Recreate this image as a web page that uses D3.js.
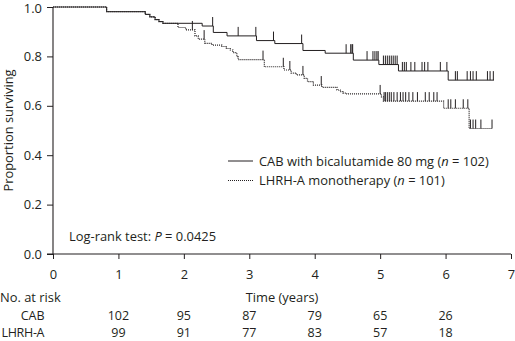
<!DOCTYPE html>
<html>
<head>
<meta charset="utf-8">
<script src="https://cdn.jsdelivr.net/npm/d3@7"></script>
<style>
  html, body { margin: 0; padding: 0; background: #fff; }
  svg { display: block; }
  text { font-family: "Open Sans", "Noto Sans", sans-serif; fill: #231f20; }
</style>
</head>
<body>
<svg id="chart" width="515" height="341"></svg>
<script>
// Kaplan–Meier estimates: event times (years) and survival after each step
const sharedTimes = [0.82, 1.41, 1.48, 1.56, 1.62, 1.68];
const sharedSurv  = [0.981, 0.970, 0.960, 0.949, 0.941, 0.934];

const cabTimes = [2.28, 2.45, 2.66, 3.11, 3.39, 3.82, 4.16, 4.59, 4.98, 5.28, 6.04];
const cabSurv  = [0.923, 0.897, 0.883, 0.864, 0.852, 0.824, 0.813, 0.785, 0.767, 0.741, 0.704];
const cabEnd = 6.74;
const cabCensored = [2.44, 2.83, 3.10, 3.37, 3.80, 4.48, 4.55, 4.57, 4.58, 4.80, 4.89, 4.92,
  4.95, 4.97, 5.05, 5.08, 5.11, 5.14, 5.17, 5.20, 5.23, 5.26, 5.34, 5.37, 5.40, 5.47, 5.53,
  5.64, 5.68, 5.73, 5.92, 6.02, 6.15, 6.18, 6.33, 6.38, 6.42, 6.47, 6.64, 6.68, 6.73];

const lhrhTimes = [1.91, 2.03, 2.17, 2.22, 2.32, 2.43, 2.58, 2.65, 2.71, 2.75, 2.81, 2.83,
  3.23, 3.53, 3.64, 3.72, 3.84, 3.89, 3.98, 4.11, 4.34, 4.39, 4.43, 4.49, 5.02, 5.05, 5.97, 6.36];
const lhrhSurv  = [0.917, 0.907, 0.883, 0.870, 0.853, 0.846, 0.840, 0.832, 0.826, 0.815, 0.799, 0.787,
  0.758, 0.745, 0.732, 0.725, 0.711, 0.698, 0.684, 0.675, 0.664, 0.657, 0.651, 0.648, 0.636, 0.619, 0.590, 0.508];
const lhrhEnd = 6.71;
const lhrhCensored = [2.13, 2.31, 3.21, 3.52, 3.62, 3.82, 4.10, 5.00, 5.06, 5.08, 5.11, 5.14,
  5.17, 5.21, 5.26, 5.31, 5.35, 5.39, 5.44, 5.50, 5.57, 5.69, 5.75, 5.82, 5.87, 6.04, 6.08,
  6.15, 6.27, 6.34, 6.38, 6.42, 6.46, 6.54, 6.71];

// Axis ticks and numbers at risk
const xTicks = [0, 1, 2, 3, 4, 5, 6, 7];
const yTicks = [0.0, 0.2, 0.4, 0.6, 0.8, 1.0];
const riskTimes = [1, 2, 3, 4, 5, 6];
const cabAtRisk = [102, 95, 87, 79, 65, 26];
const lhrhAtRisk = [99, 91, 77, 83, 57, 18];

const svg = d3.select("#chart");
const x = d3.scaleLinear().domain([0, 7]).range([53, 511]);
const y = d3.scaleLinear().domain([0, 1]).range([254, 7]);
const ink = "#231f20";
const fs = 12.9;
const rowFs = 12.5;

// build step points for one arm
function kmPoints(times, surv, end) {
  const t = sharedTimes.concat(times), s = sharedSurv.concat(surv);
  const pts = [[0, 1]];
  t.forEach((ti, i) => pts.push([ti, s[i]]));
  pts.push([end, s[s.length - 1]]);
  return pts;
}
function survAt(pts, t) {
  let v = 1;
  for (const p of pts) { if (p[0] <= t) v = p[1]; }
  return v;
}

const cabPts = kmPoints(cabTimes, cabSurv, cabEnd);
const lhrhPts = kmPoints(lhrhTimes, lhrhSurv, lhrhEnd);
const line = d3.line().x(d => x(d[0])).y(d => y(d[1])).curve(d3.curveStepAfter);

// axes
const yAxis = svg.append("g").attr("transform", "translate(53,0)")
  .call(d3.axisLeft(y).tickValues(yTicks).tickFormat(d3.format(".1f")).tickSize(6).tickPadding(5));
const xAxis = svg.append("g").attr("transform", "translate(0,254)")
  .call(d3.axisBottom(x).tickValues(xTicks).tickFormat(d3.format("d")).tickSize(5).tickPadding(11));
[yAxis, xAxis].forEach(g => {
  g.select(".domain").attr("stroke", ink).attr("stroke-width", 1.1);
  g.selectAll(".tick line").attr("stroke", ink);
  g.selectAll("text").attr("font-size", fs).attr("fill", ink)
    .attr("font-family", "'Open Sans', 'Noto Sans', sans-serif");
});
yAxis.select(".domain").attr("d", "M0,7V254");
xAxis.select(".domain").attr("d", "M47,0H511");
// keep the top label inside the frame
yAxis.selectAll(".tick text").filter(d => d === 1).attr("dy", "0.42em");

svg.append("text")
  .attr("transform", "translate(13,130.5) rotate(-90)")
  .attr("text-anchor", "middle").attr("font-size", fs)
  .text("Proportion surviving");

// survival curves
svg.append("path").datum(cabPts).attr("d", line)
  .attr("fill", "none").attr("stroke", ink).attr("stroke-width", 1);
svg.append("path").datum(lhrhPts).attr("d", line)
  .attr("fill", "none").attr("stroke", ink).attr("stroke-width", 1.2)
  .attr("stroke-dasharray", "1,1");

// censoring marks
function censorMarks(pts, times) {
  svg.append("g").selectAll("line").data(times).join("line")
    .attr("x1", d => x(d)).attr("x2", d => x(d))
    .attr("y1", d => y(survAt(pts, d)))
    .attr("y2", d => y(survAt(pts, d)) - 9)
    .attr("stroke", ink).attr("stroke-width", 1);
}
censorMarks(cabPts, cabCensored);
censorMarks(lhrhPts, lhrhCensored);

// legend
const legend = [
  { label: "CAB with bicalutamide 80 mg (", n: "102", dash: null, yy: 161 },
  { label: "LHRH-A monotherapy (", n: "101", dash: "1,1", yy: 180.5 }
];
legend.forEach(l => {
  svg.append("line").attr("x1", 228).attr("x2", 253).attr("y1", l.yy).attr("y2", l.yy)
    .attr("stroke", ink).attr("stroke-width", l.dash ? 1.2 : 1)
    .attr("stroke-dasharray", l.dash);
  const t = svg.append("text").attr("x", 259).attr("y", l.yy + 4.5).attr("font-size", fs);
  t.append("tspan").text(l.label);
  t.append("tspan").attr("font-style", "italic").text("n");
  t.append("tspan").text(" = " + l.n + ")");
});

// log-rank annotation
const lr = svg.append("text").attr("x", 69).attr("y", 241).attr("font-size", fs);
lr.append("tspan").text("Log-rank test: ");
lr.append("tspan").attr("font-style", "italic").text("P");
lr.append("tspan").text(" = 0.0425");

// numbers at risk
svg.append("text").attr("x", 0).attr("y", 301.5).attr("font-size", fs).text("No. at risk");
svg.append("text").attr("x", x(3.5)).attr("y", 301.5).attr("font-size", fs)
  .attr("text-anchor", "middle").text("Time (years)");
[["CAB", cabAtRisk, 320], ["LHRH-A", lhrhAtRisk, 337.3]].forEach(([name, vals, yy]) => {
  svg.append("text").attr("x", 44.5).attr("y", yy).attr("font-size", rowFs)
    .attr("text-anchor", "end").attr("textLength", name.length > 3 ? 43 : null)
    .text(name);
  svg.append("g").selectAll("text").data(vals).join("text")
    .attr("x", (d, i) => x(riskTimes[i])).attr("y", yy)
    .attr("font-size", rowFs).attr("text-anchor", "middle").text(d => d);
});
</script>
</body>
</html>
